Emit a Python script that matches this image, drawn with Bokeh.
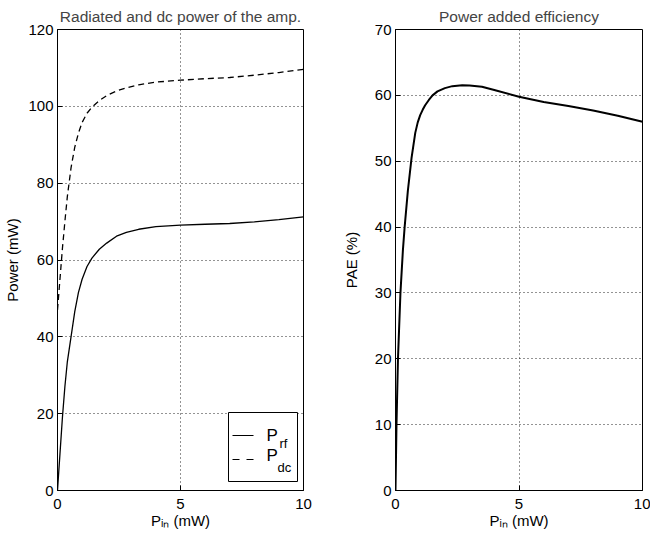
from bokeh.plotting import figure
from bokeh.models import Range1d, FixedTicker, Label, BoxAnnotation, PolyAnnotation
from bokeh.layouts import row
from bokeh.embed import file_html
from bokeh.resources import INLINE

# ---- data ----
pin = [0, 0.05, 0.1, 0.2, 0.3, 0.4, 0.55, 0.7, 0.85, 1.0, 1.2, 1.4, 1.7, 2.0, 2.4, 2.8,
       3.3, 4.0, 5.0, 6.0, 7.0, 8.0, 9.0, 10.0]
p_rf = [0, 4.8, 9.5, 19, 27, 33.5, 40, 46.5, 51.5, 55, 58.3, 60.5, 62.8, 64.4, 66.2, 67.2,
        68.0, 68.7, 69.1, 69.3, 69.5, 69.9, 70.5, 71.2]
p_dc = [47, 51, 55, 63, 70, 76.5, 84, 89.3, 93, 95.8, 98.2, 99.8, 101.5, 102.8, 104.0, 104.8,
        105.6, 106.3, 106.8, 107.2, 107.5, 108.1, 108.8, 109.6]

pin_pae = [0, 0.04, 0.1, 0.2, 0.3, 0.37, 0.5, 0.65, 0.8, 0.9, 1.0, 1.1, 1.2, 1.35, 1.5, 1.7,
           2.0, 2.3, 2.7, 3.0, 3.5, 4.0, 5.0, 6.0, 7.0, 8.0, 9.0, 10.0]
pae = [0, 10, 20, 30, 36.5, 40, 45.5, 50.5, 54.3, 55.9, 57, 57.8, 58.5, 59.3, 60, 60.6,
       61.1, 61.4, 61.55, 61.5, 61.3, 60.8, 59.8, 59.0, 58.4, 57.7, 56.9, 56.0]

x_ticks = [0, 5, 10]
y_ticks_left = [0, 20, 40, 60, 80, 100, 120]
y_ticks_right = [0, 10, 20, 30, 40, 50, 60, 70]

FONT = "Liberation Sans"
FH = 461


def make_fig(title, ymax, yticks, ylabel, frame_w, border_left, border_right, ylabel_standoff):
    p = figure(frame_width=frame_w, frame_height=FH,
               x_range=Range1d(0, 10), y_range=Range1d(0, ymax),
               output_backend="svg", toolbar_location=None,
               min_border_left=border_left, min_border_right=border_right,
               min_border_top=29, min_border_bottom=42,
               background_fill_color="white", border_fill_color="white")
    p.title.text = title
    p.title.text_font = FONT
    p.title.text_font_size = "15.5px"
    p.title.text_font_style = "normal"
    p.title.align = "center"
    p.title.standoff = 10
    p.outline_line_color = "black"
    p.outline_line_width = 1
    p.outline_line_alpha = 1
    for ax in (p.xaxis[0], p.yaxis[0]):
        ax.major_tick_in = 5
        ax.major_tick_out = 0
        ax.minor_tick_line_color = None
        ax.axis_line_color = "black"
        ax.major_tick_line_color = "black"
        ax.major_label_text_font = FONT
        ax.major_label_text_font_size = "15px"
        ax.major_label_text_color = "black"
        ax.axis_label_text_font = FONT
        ax.axis_label_text_font_size = "15px"
        ax.axis_label_text_font_style = "normal"
        ax.axis_label_text_color = "black"
    p.xaxis.ticker = FixedTicker(ticks=x_ticks)
    p.yaxis.ticker = FixedTicker(ticks=yticks)
    p.xaxis.major_label_standoff = 8
    p.yaxis.major_label_standoff = 4
    p.xaxis.axis_label = "P\u1d62\u2099 (mW)"
    p.xaxis.axis_label_standoff = 0
    p.yaxis.axis_label = ylabel
    p.yaxis.axis_label_standoff = ylabel_standoff
    for g in (p.xgrid[0], p.ygrid[0]):
        g.grid_line_color = "black"
        g.grid_line_alpha = 0.85
        g.grid_line_dash = "1 3"
        g.grid_line_width = 1
    return p


# ---- left: radiated and dc power ----
p1 = make_fig("Radiated and dc power of the amp.", 120, y_ticks_left, "Power (mW)",
              246, 57, 12, 4)
p1.line(pin, p_rf, line_color="black", line_width=1.3)
p1.line(pin, p_dc, line_color="black", line_width=1.3, line_dash="6 4")

# legend (box, sample lines and labels with subscripts)
p1.add_layout(BoxAnnotation(left=171, right=240, bottom=9, top=78,
                            left_units="screen", right_units="screen",
                            bottom_units="screen", top_units="screen",
                            fill_color="white", fill_alpha=1,
                            line_color="black", line_width=1, line_alpha=1))
for xs, ys in (([175, 196], [55, 55]), ([175, 182], [31, 31]), ([189, 196], [31, 31])):
    p1.add_layout(PolyAnnotation(xs=xs, ys=ys, xs_units="screen", ys_units="screen",
                                 line_color="black", line_alpha=1, line_width=1.2,
                                 fill_alpha=0))
for txt, x, y, fs in (("P", 209, 55, "17px"), ("rf", 222, 47, "13px"),
                      ("P", 209, 35, "17px"), ("dc", 220, 23, "13px")):
    p1.add_layout(Label(x=x, y=y, x_units="screen", y_units="screen", text=txt,
                        text_font=FONT, text_font_size=fs, text_baseline="alphabetic",
                        text_align="left", text_color="black"))

# ---- right: power added efficiency ----
p2 = make_fig("Power added efficiency", 70, y_ticks_right, "PAE (%)",
              247, 80, 8, 12)
p2.line(pin_pae, pae, line_color="black", line_width=2)

layout = row(p1, p2)
open("out.html", "w").write(file_html(layout, INLINE))
